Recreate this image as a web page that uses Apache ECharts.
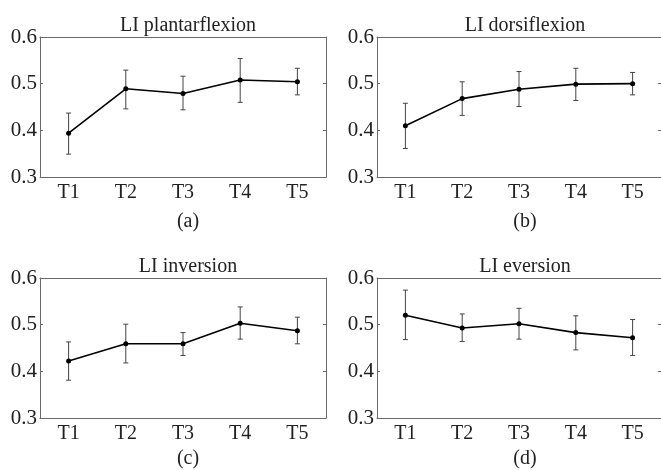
<!DOCTYPE html>
<html>
<head>
<meta charset="utf-8">
<script src="https://cdn.jsdelivr.net/npm/echarts@6/dist/echarts.min.js"></script>
<style>
  html, body { margin: 0; padding: 0; background: #fff; }
  #main { width: 661px; height: 470px; }
</style>
</head>
<body>
<div id="main"></div>
<script>
// data
var times = ['T1', 'T2', 'T3', 'T4', 'T5'];
var panelTitles = ['LI plantarflexion', 'LI dorsiflexion', 'LI inversion', 'LI eversion'];
var panelLabels = ['(a)', '(b)', '(c)', '(d)'];

var plantarMean = [0.394, 0.489, 0.479, 0.508, 0.504];
var plantarLow  = [0.349, 0.446, 0.444, 0.460, 0.476];
var plantarHigh = [0.437, 0.529, 0.516, 0.554, 0.533];

var dorsiMean = [0.410, 0.468, 0.488, 0.499, 0.500];
var dorsiLow  = [0.361, 0.432, 0.451, 0.464, 0.476];
var dorsiHigh = [0.458, 0.504, 0.526, 0.533, 0.524];

var invMean = [0.422, 0.459, 0.459, 0.503, 0.487];
var invLow  = [0.381, 0.418, 0.434, 0.469, 0.459];
var invHigh = [0.463, 0.501, 0.483, 0.538, 0.516];

var everMean = [0.520, 0.493, 0.502, 0.483, 0.472];
var everLow  = [0.468, 0.464, 0.469, 0.446, 0.434];
var everHigh = [0.574, 0.523, 0.535, 0.519, 0.511];

var yTicks = [0.3, 0.4, 0.5, 0.6];

var means = [plantarMean, dorsiMean, invMean, everMean];
var lows = [plantarLow, dorsiLow, invLow, everLow];
var highs = [plantarHigh, dorsiHigh, invHigh, everHigh];

var chart = echarts.init(document.getElementById('main'));

var font = 'Liberation Serif';
var boxColor = '#6a6a6a';
// grid boxes: left, top, width, height, caption offset (px)
var boxes = [
  [40, 37, 286, 140, 30],
  [377, 37, 286, 140, 30],
  [40, 278, 286, 140, 26],
  [377, 278, 286, 140, 26]
];

var grids = [], xAxes = [], yAxes = [], series = [], titles = [];

function errorBar(params, api) {
  var x = api.value(0);
  var lo = api.coord([x, api.value(1)]);
  var hi = api.coord([x, api.value(2)]);
  var w = 2.5;
  var st = { stroke: '#444', lineWidth: 1 };
  return {
    type: 'group',
    children: [
      { type: 'line', shape: { x1: lo[0], y1: lo[1], x2: hi[0], y2: hi[1] }, style: st },
      { type: 'line', shape: { x1: lo[0] - w, y1: lo[1], x2: lo[0] + w, y2: lo[1] }, style: st },
      { type: 'line', shape: { x1: hi[0] - w, y1: hi[1], x2: hi[0] + w, y2: hi[1] }, style: st }
    ]
  };
}

boxes.forEach(function (b, i) {
  grids.push({ left: b[0], top: b[1], width: b[2], height: b[3] });
  // bottom axis with labels
  xAxes.push({
    type: 'category', gridIndex: i, data: times, position: 'bottom',
    axisLine: { lineStyle: { color: boxColor, width: 1 } },
    axisTick: { inside: true, alignWithLabel: true, length: 3, lineStyle: { color: boxColor } },
    axisLabel: { color: '#222', fontFamily: font, fontSize: 20, margin: 6 },
    splitLine: { show: false }
  });
  // top mirrored axis
  xAxes.push({
    type: 'category', gridIndex: i, data: times, position: 'top',
    axisLine: { lineStyle: { color: boxColor, width: 1 } },
    axisTick: { inside: true, alignWithLabel: true, length: 3, lineStyle: { color: boxColor } },
    axisLabel: { show: false },
    splitLine: { show: false }
  });
  yAxes.push({
    type: 'value', gridIndex: i, min: yTicks[0], max: yTicks[yTicks.length - 1], interval: 0.1,
    position: 'left',
    axisLine: { show: true, lineStyle: { color: boxColor, width: 1 } },
    axisTick: { show: true, inside: true, length: 3, lineStyle: { color: boxColor } },
    axisLabel: { color: '#222', fontFamily: font, fontSize: 21, margin: 3,
      formatter: function (v) { return v.toFixed(1); } },
    splitLine: { show: false }
  });
  yAxes.push({
    type: 'value', gridIndex: i, min: yTicks[0], max: yTicks[yTicks.length - 1], interval: 0.1,
    position: 'right',
    axisLine: { show: true, lineStyle: { color: boxColor, width: 1 } },
    axisTick: { show: true, inside: true, length: 3, lineStyle: { color: boxColor } },
    axisLabel: { show: false },
    splitLine: { show: false }
  });

  series.push({
    type: 'custom', xAxisIndex: i * 2, yAxisIndex: i * 2,
    renderItem: errorBar,
    encode: { x: 0, y: [1, 2] },
    data: times.map(function (t, k) { return [k, lows[i][k], highs[i][k]]; }),
    z: 2
  });
  series.push({
    type: 'line', xAxisIndex: i * 2, yAxisIndex: i * 2,
    data: means[i],
    symbol: 'circle', symbolSize: 5,
    itemStyle: { color: '#000' },
    lineStyle: { color: '#000', width: 1.6 },
    z: 3
  });

  var cx = b[0] + b[2] / 2;
  titles.push({
    text: panelTitles[i], left: cx, top: b[1] - 26, textAlign: 'center',
    textStyle: { fontFamily: font, fontSize: 20, fontWeight: 'normal', color: '#222' }
  });
  titles.push({
    text: panelLabels[i], left: cx, top: b[1] + b[3] + b[4], textAlign: 'center',
    textStyle: { fontFamily: font, fontSize: 20, fontWeight: 'normal', color: '#222' }
  });
});

chart.setOption({
  backgroundColor: '#fff',
  animation: false,
  title: titles,
  grid: grids,
  xAxis: xAxes,
  yAxis: yAxes,
  series: series
});
</script>
</body>
</html>
